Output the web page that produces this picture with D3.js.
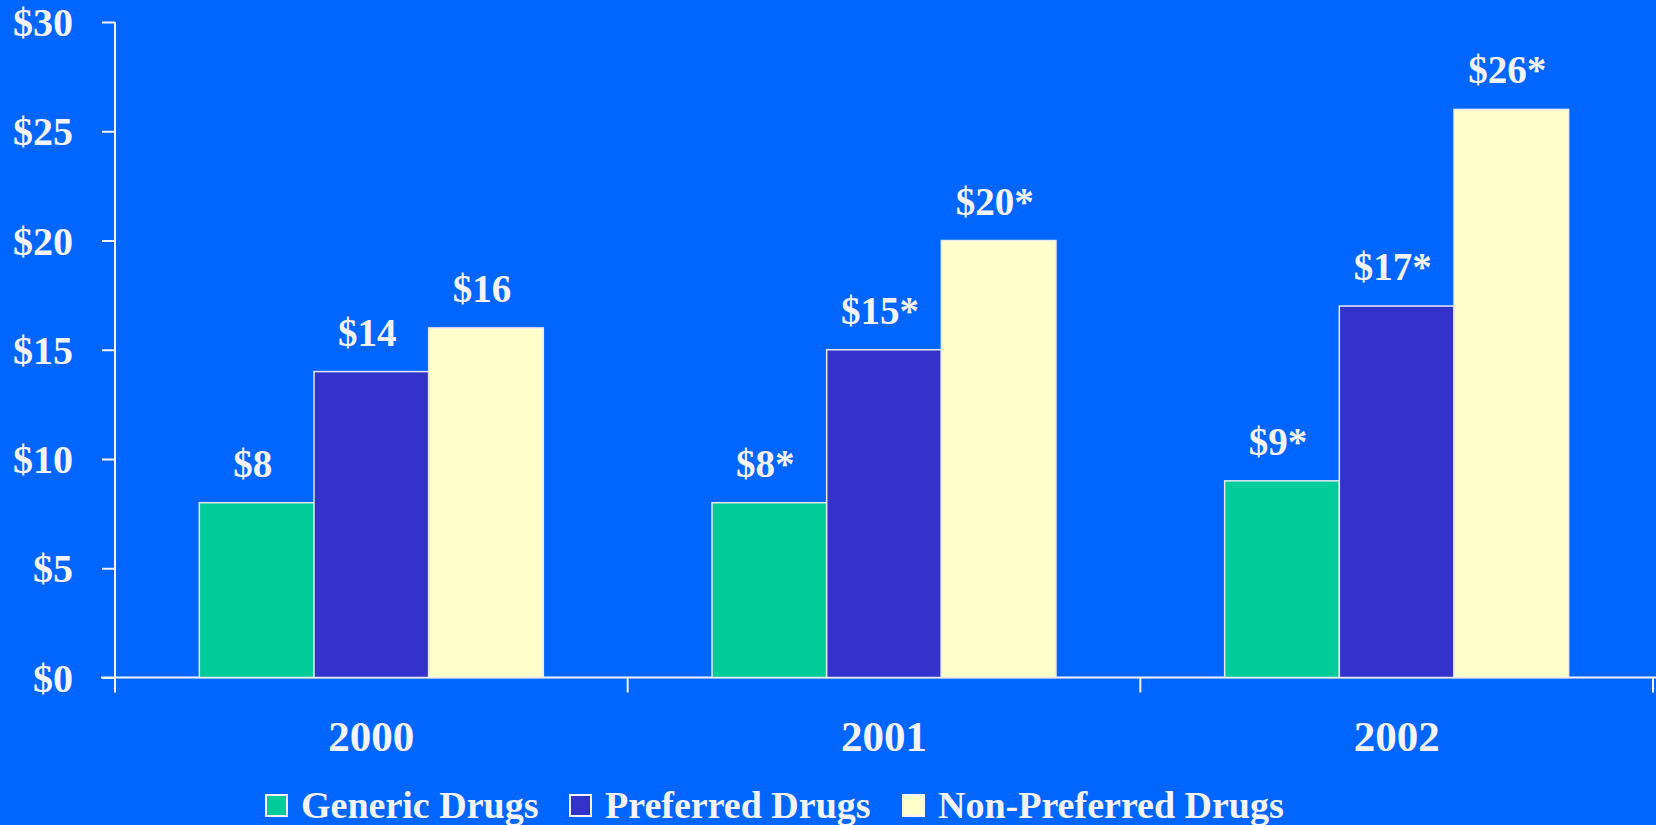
<!DOCTYPE html>
<html><head><meta charset="utf-8">
<script src="https://cdn.jsdelivr.net/npm/d3@7"></script>
<style>
html,body{margin:0;padding:0;background:#0066FF;overflow:hidden}
svg{display:block}
text{font-family:"Liberation Serif","Times New Roman",serif;font-weight:bold;fill:#F4F4F8}
</style></head><body>
<svg id="chart" width="1656" height="825"></svg>
<script>
const years = ["2000", "2001", "2002"];
const seriesNames = ["Generic Drugs", "Preferred Drugs", "Non-Preferred Drugs"];
const generic = [8, 8, 9];
const preferred = [14, 15, 17];
const nonPreferred = [16, 20, 26];
const labelsGeneric = ["$8", "$8*", "$9*"];
const labelsPreferred = ["$14", "$15*", "$17*"];
const labelsNonPreferred = ["$16", "$20*", "$26*"];
const yTicks = [0, 5, 10, 15, 20, 25, 30];
const colors = ["#00CC99", "#3333CC", "#FFFFCC"];

(function () {
const svg = d3.select("#chart");
const W = 1656, H = 825;
svg.append("rect").attr("width", W).attr("height", H).attr("fill", "#0066FF");

const mLeft = 115, mRight = 1653, mTop = 22, mBottom = 677.5;
const y = d3.scaleLinear().domain([0, 30]).range([mBottom, mTop]);
const pad = 0.329;
const x0 = d3.scaleBand().domain(years).range([mLeft, mRight]).paddingInner(pad).paddingOuter(pad / 2);
const x1 = d3.scaleBand().domain(seriesNames).range([0, x0.bandwidth()]).padding(0);
const color = d3.scaleOrdinal().domain(seriesNames).range(colors);

const values = [generic, preferred, nonPreferred];
const labels = [labelsGeneric, labelsPreferred, labelsNonPreferred];
const data = [];
years.forEach((yr, i) => {
  seriesNames.forEach((s, j) => {
    data.push({year: yr, series: s, value: values[j][i], label: labels[j][i]});
  });
});

// x axis line
svg.append("line").attr("x1", 101).attr("x2", W).attr("y1", mBottom).attr("y2", mBottom)
  .attr("stroke", "#F4F4F8").attr("stroke-width", 2);

// y axis
const yAxis = d3.axisLeft(y).tickValues(yTicks).tickSize(13).tickPadding(29)
  .tickFormat(d => "$" + d);
const gy = svg.append("g").attr("transform", `translate(${mLeft},0)`).call(yAxis);
gy.select(".domain").remove();
gy.selectAll(".tick line").attr("stroke", "#F4F4F8").attr("stroke-width", 2);
gy.selectAll(".tick text").attr("font-size", 40).attr("fill", "#F4F4F8")
  .attr("font-family", "Liberation Serif, Times New Roman, serif").attr("font-weight", "bold")
  .attr("dy", "0.34em");
svg.append("line").attr("x1", mLeft).attr("x2", mLeft).attr("y1", y(30)).attr("y2", mBottom + 15)
  .attr("stroke", "#F4F4F8").attr("stroke-width", 2);

// x ticks at category boundaries
const bounds = d3.range(years.length + 1).map(i => mLeft + i * x0.step());
svg.selectAll(".xtick").data(bounds.slice(1)).join("line")
  .attr("x1", d => d).attr("x2", d => d).attr("y1", mBottom).attr("y2", mBottom + 15)
  .attr("stroke", "#F4F4F8").attr("stroke-width", 2);

// bars
svg.selectAll(".bar").data(data).join("rect")
  .attr("x", d => x0(d.year) + x1(d.series))
  .attr("y", d => y(d.value))
  .attr("width", x1.bandwidth())
  .attr("height", d => y(0) - y(d.value))
  .attr("fill", d => color(d.series))
  .attr("stroke", "#E8E8F0").attr("stroke-width", 1.5);

// value labels
svg.selectAll(".vlabel").data(data).join("text")
  .attr("x", d => x0(d.year) + x1(d.series) + x1.bandwidth() / 2 - 4)
  .attr("y", d => y(d.value) - 26)
  .attr("text-anchor", "middle").attr("font-size", 39)
  .text(d => d.label);

// category labels
svg.selectAll(".xlabel").data(years).join("text")
  .attr("x", d => x0(d) + x0.bandwidth() / 2)
  .attr("y", 751)
  .attr("text-anchor", "middle").attr("font-size", 43)
  .text(d => d);

// legend
const legendX = [266, 570, 903];
const lg = svg.selectAll(".legend").data(seriesNames).join("g")
  .attr("transform", (d, i) => `translate(${legendX[i]},0)`);
lg.append("rect").attr("x", 0).attr("y", 795).attr("width", 21).attr("height", 21)
  .attr("fill", d => color(d)).attr("stroke", "#F4F4F8").attr("stroke-width", 2);
lg.append("text").attr("x", 35).attr("y", 818).attr("font-size", 38).text(d => d);
})();
</script>
</body></html>
